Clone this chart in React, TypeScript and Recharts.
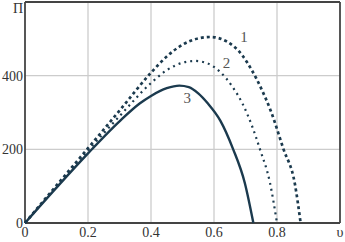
import React from "react";
import { LineChart, Line, XAxis, YAxis, ReferenceLine } from "recharts";

// curve 1 (dashed), curve 2 (dotted), curve 3 (solid); v -> П
const curve1 = [
  { v: 0, p: 0 }, { v: 0.1, p: 102 }, { v: 0.2, p: 203 }, { v: 0.3, p: 305 },
  { v: 0.4, p: 408 }, { v: 0.45, p: 452 }, { v: 0.5, p: 484 }, { v: 0.55, p: 501 },
  { v: 0.59, p: 505 }, { v: 0.64, p: 493 }, { v: 0.69, p: 455 }, { v: 0.72, p: 415 },
  { v: 0.75, p: 365 }, { v: 0.78, p: 305 }, { v: 0.82, p: 202 }, { v: 0.857, p: 105 },
  { v: 0.875, p: 0 },
];
const curve2 = [
  { v: 0, p: 0 }, { v: 0.1, p: 100 }, { v: 0.2, p: 197 }, { v: 0.3, p: 290 },
  { v: 0.4, p: 380 }, { v: 0.45, p: 415 }, { v: 0.5, p: 435 }, { v: 0.54, p: 440 },
  { v: 0.58, p: 433 }, { v: 0.62, p: 410 }, { v: 0.66, p: 368 }, { v: 0.69, p: 325 },
  { v: 0.72, p: 265 }, { v: 0.746, p: 200 }, { v: 0.778, p: 108 }, { v: 0.8, p: 0 },
];
const curve3 = [
  { v: 0, p: 0 }, { v: 0.1, p: 96 }, { v: 0.2, p: 189 }, { v: 0.3, p: 276 },
  { v: 0.365, p: 325 }, { v: 0.4, p: 345 }, { v: 0.45, p: 366 }, { v: 0.49, p: 373 },
  { v: 0.52, p: 369 }, { v: 0.55, p: 352 }, { v: 0.58, p: 325 }, { v: 0.62, p: 278 },
  { v: 0.66, p: 202 }, { v: 0.698, p: 108 }, { v: 0.725, p: 0 },
];

const xTicks = [0, 0.2, 0.4, 0.6, 0.8, 1];
const yTicks = [0, 200, 400, 600];
const xGrid = [0.2, 0.4, 0.6, 0.8];
const yGrid = [200, 400];
const curveLabels = [
  { name: "1", v: 0.695, p: 500 },
  { name: "2", v: 0.64, p: 430 },
  { name: "3", v: 0.515, p: 335 },
];

// merged table for the chart: one row per v, one column per curve
const rows = new Map<number, any>();
const put = (arr: { v: number; p: number }[], key: string) =>
  arr.forEach((d) => {
    const r = rows.get(d.v) || { v: d.v };
    r[key] = d.p;
    rows.set(d.v, r);
  });
put(curve1, "c1");
put(curve2, "c2");
put(curve3, "c3");
curveLabels.forEach((d) => {
  const r = rows.get(d.v) || { v: d.v };
  r.lbl = d.p;
  r.name = d.name;
  rows.set(d.v, r);
});
const table = [...rows.values()].sort((a, b) => a.v - b.v);

const ink = "#1b3a4e";
const font = "Liberation Serif";
const frame = "#444";

const xFmt = (t: number) => (t === 1 ? "υ" : t === 0 ? "0" : String(t));
const yFmt = (t: number) => (t === 600 ? "П" : String(t));

export default function App() {
  return (
    <div style={{ position: "absolute", left: 0, top: 0, background: "#fff", fontFamily: font }}>
      <LineChart width={345} height={242} data={table}
        margin={{ top: 2, right: 5, bottom: 0, left: 0 }}>
        <XAxis
          type="number"
          dataKey="v"
          domain={[0, 1]}
          ticks={xTicks}
          tickFormatter={xFmt}
          tickSize={0}
          tickMargin={4}
          height={19}
          axisLine={false}
          tick={{ fill: "#333", fontSize: 14, style: { fontFamily: font } }}
        />
        <YAxis
          type="number"
          domain={[0, 600]}
          ticks={yTicks}
          tickFormatter={yFmt}
          tickSize={0}
          tickMargin={2}
          width={25}
          axisLine={false}
          tick={{ fill: "#333", fontSize: 14, style: { fontFamily: font } }}
        />
        {xGrid.map((x) => (
          <ReferenceLine key={"x" + x} x={x} stroke="#cccccc" strokeWidth={1.3} />
        ))}
        {yGrid.map((y) => (
          <ReferenceLine key={"y" + y} y={y} stroke="#cccccc" strokeWidth={1.3} />
        ))}
        <ReferenceLine x={0} stroke={frame} strokeWidth={1.8} />
        <ReferenceLine x={1} stroke={frame} strokeWidth={1.8} />
        <ReferenceLine y={0} stroke={frame} strokeWidth={1.8} />
        <ReferenceLine y={600} stroke={frame} strokeWidth={1.8} />
        <Line dataKey="c1" type="monotone" stroke={ink} connectNulls
          strokeWidth={2.7} strokeDasharray="3 3" dot={false} isAnimationActive={false} />
        <Line dataKey="c2" type="monotone" stroke={ink} connectNulls
          strokeWidth={2.2} strokeDasharray="2 4" dot={false} isAnimationActive={false} />
        <Line dataKey="c3" type="monotone" stroke={ink} connectNulls
          strokeWidth={2.4} dot={false} isAnimationActive={false} />
        <Line dataKey="lbl" stroke="none" isAnimationActive={false} dot={false}
          label={(props: any) =>
            props.value == null ? null : (
              <text key={props.index} x={props.x} y={props.y} textAnchor="middle"
                dominantBaseline="middle" fontSize={15} fontFamily={font} fill="#555">
                {table[props.index].name}
              </text>
            )
          } />
      </LineChart>
    </div>
  );
}
